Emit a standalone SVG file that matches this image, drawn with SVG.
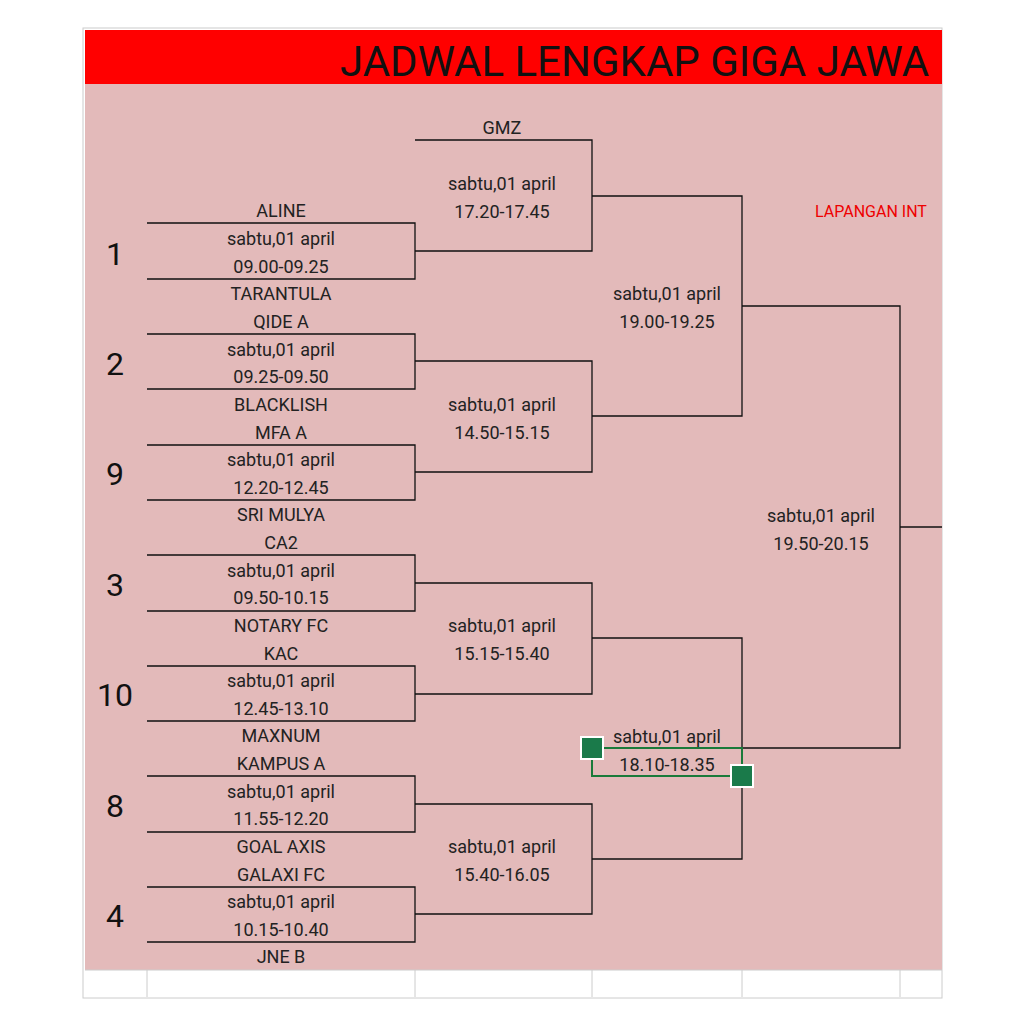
<svg xmlns="http://www.w3.org/2000/svg" width="1024" height="1024" viewBox="0 0 1024 1024">
<style>
text{font-family:Roboto,"Liberation Sans",sans-serif;font-size:18px;fill:#222;text-anchor:middle}
.n{font-size:32px;fill:#111}
.l{stroke:#111;stroke-width:1.3;fill:none}
.g{stroke:#ccc;stroke-width:1;fill:none}
</style>
<defs><clipPath id="c"><rect x="85" y="28" width="857" height="60"/></clipPath></defs>
<rect width="1024" height="1024" fill="#fff"/>
<rect x="83" y="28" width="859" height="970" fill="#fff" stroke="#ccc"/>
<rect x="85" y="30" width="857" height="54" fill="#f00"/>
<text x="340" y="76" clip-path="url(#c)" style="font-size:42px;text-anchor:start;fill:#111">JADWAL LENGKAP GIGA JAWA</text>
<rect x="85" y="84" width="857" height="886" fill="#e3baba"/>
<g class="g"><path d="M85 970H942M147 970V997M415 970V997M592 970V997M742 970V997M900 970V997"/></g>
<text x="815" y="217" style="fill:#e00;font-size:16px;text-anchor:start">LAPANGAN INT</text>
<g id="connectors" class="l">
<path d="M147 223H415V279H147"/><path d="M147 334H415V389H147"/><path d="M147 445H415V500H147"/>
<path d="M147 555H415V611H147"/><path d="M147 666H415V721H147"/><path d="M147 776H415V832H147"/><path d="M147 887H415V942H147"/>
<path d="M415 140H592V251H415"/><path d="M415 361H592V472H415"/><path d="M415 583H592V694H415"/><path d="M415 804H592V914H415"/>
<path d="M592 196H742V416H592"/><path d="M592 638H742V859H592"/>
<path d="M742 306H900V748H742"/><path d="M900 527H942"/>
</g>
<g id="n1"><text class="n" x="115" y="265">1</text><text x="281" y="217">ALINE</text><text x="281" y="245">sabtu,01 april</text><text x="281" y="273">09.00-09.25</text><text x="281" y="300">TARANTULA</text></g>
<g id="n2"><text class="n" x="115" y="375">2</text><text x="281" y="328">QIDE A</text><text x="281" y="356">sabtu,01 april</text><text x="281" y="383">09.25-09.50</text><text x="281" y="411">BLACKLISH</text></g>
<g id="n9"><text class="n" x="115" y="485">9</text><text x="281" y="439">MFA A</text><text x="281" y="466">sabtu,01 april</text><text x="281" y="494">12.20-12.45</text><text x="281" y="521">SRI MULYA</text></g>
<g id="n3"><text class="n" x="115" y="596">3</text><text x="281" y="549">CA2</text><text x="281" y="577">sabtu,01 april</text><text x="281" y="604">09.50-10.15</text><text x="281" y="632">NOTARY FC</text></g>
<g id="n10"><text class="n" x="115" y="706">10</text><text x="281" y="660">KAC</text><text x="281" y="687">sabtu,01 april</text><text x="281" y="715">12.45-13.10</text><text x="281" y="742">MAXNUM</text></g>
<g id="n8"><text class="n" x="115" y="817">8</text><text x="281" y="770">KAMPUS A</text><text x="281" y="798">sabtu,01 april</text><text x="281" y="825">11.55-12.20</text><text x="281" y="853">GOAL AXIS</text></g>
<g id="n4"><text class="n" x="115" y="927">4</text><text x="281" y="881">GALAXI FC</text><text x="281" y="908">sabtu,01 april</text><text x="281" y="936">10.15-10.40</text><text x="281" y="963">JNE B</text></g>
<g id="r2a"><text x="502" y="134">GMZ</text><text x="502" y="190">sabtu,01 april</text><text x="502" y="218">17.20-17.45</text></g>
<g id="r2b"><text x="502" y="411">sabtu,01 april</text><text x="502" y="439">14.50-15.15</text></g>
<g id="r2c"><text x="502" y="632">sabtu,01 april</text><text x="502" y="660">15.15-15.40</text></g>
<g id="r2d"><text x="502" y="853">sabtu,01 april</text><text x="502" y="881">15.40-16.05</text></g>
<g id="r3a"><text x="667" y="300">sabtu,01 april</text><text x="667" y="328">19.00-19.25</text></g>
<g id="r3b"><rect x="592" y="748" width="150" height="28" fill="none" stroke="#1a7a3a" stroke-width="2"/><text x="667" y="743">sabtu,01 april</text><text x="667" y="771">18.10-18.35</text>
<rect x="581" y="737" width="22" height="22" fill="#1a7a4a" stroke="#fff" stroke-width="2"/><rect x="731" y="765" width="22" height="22" fill="#1a7a4a" stroke="#fff" stroke-width="2"/></g>
<g id="r4"><text x="821" y="522">sabtu,01 april</text><text x="821" y="550">19.50-20.15</text></g>
</svg>
